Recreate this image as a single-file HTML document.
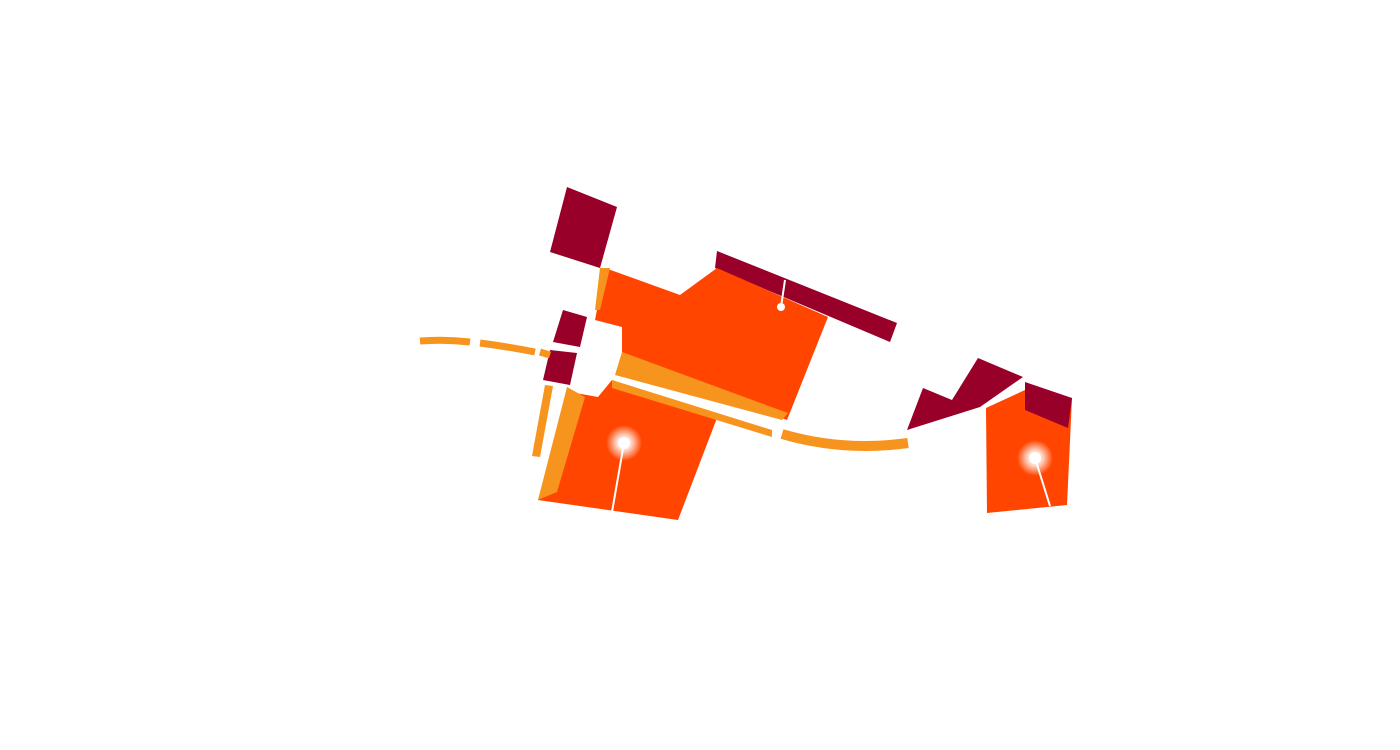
<!DOCTYPE html>
<html><head><meta charset="utf-8"><style>html,body{margin:0;background:#fff}svg{display:block}</style></head><body>
<svg width="1400" height="750" viewBox="0 0 1400 750" xmlns="http://www.w3.org/2000/svg">
<defs><radialGradient id="g"><stop offset="0" stop-color="#fff"/><stop offset="0.4" stop-color="#fff" stop-opacity="0.8"/><stop offset="1" stop-color="#fff" stop-opacity="0"/></radialGradient></defs>
<polygon points="567,187 617,207 600,268 550,252" fill="#990029"/>
<polygon points="717,251 897,323 890,342 715,268" fill="#990029"/>
<polygon points="563,310 587,317 580,347 553,342" fill="#990029"/>
<polygon points="550,350 577,353 570,385 543,380" fill="#990029"/>
<polygon points="605,268 680,295 717,268 828,317 787,420 622,360 622,327 595,320" fill="#ff4500"/>
<polygon points="600,268 610,268 600,310 595,310" fill="#f7941d"/>
<polygon points="570,392 598,397 612,380 717,418 678,520 538,500" fill="#ff4500"/>
<polygon points="567,387 585,397 557,492 538,500" fill="#f7941d"/>
<polygon points="545,385 553,386 540,457 532,456" fill="#f7941d"/>
<polygon points="622,352 788,413 782,420 615,375" fill="#f7941d"/>
<polygon points="612,380 772,430 772,437 612,388" fill="#f7941d"/>
<path d="M420,341 Q445,339 470,342" stroke="#f7941d" stroke-width="7" fill="none"/>
<path d="M480,343 Q510,347 535,352" stroke="#f7941d" stroke-width="7" fill="none"/>
<path d="M540,352 L550,355" stroke="#f7941d" stroke-width="7" fill="none"/>
<path d="M782,434 Q843,452 908,443" stroke="#f7941d" stroke-width="10" fill="none"/>
<polygon points="907,430 923,388 952,400 978,358 1023,377 980,407" fill="#990029"/>
<polygon points="986,408 1025,390 1072,398 1067,505 987,513" fill="#ff4500"/>
<polygon points="1025,382 1072,398 1068,428 1025,410" fill="#990029"/>
<line x1="785" y1="280" x2="781" y2="307" stroke="#fff" stroke-width="2"/>
<circle cx="781" cy="307" r="4" fill="#fff"/>
<line x1="624" y1="443" x2="612" y2="512" stroke="#fff" stroke-width="2"/>
<circle cx="624" cy="443" r="18" fill="url(#g)"/><circle cx="624" cy="443" r="6" fill="#fff"/>
<line x1="1035" y1="458" x2="1050" y2="506" stroke="#fff" stroke-width="2"/>
<circle cx="1035" cy="458" r="18" fill="url(#g)"/><circle cx="1035" cy="458" r="6" fill="#fff"/>
</svg>
</body></html>
